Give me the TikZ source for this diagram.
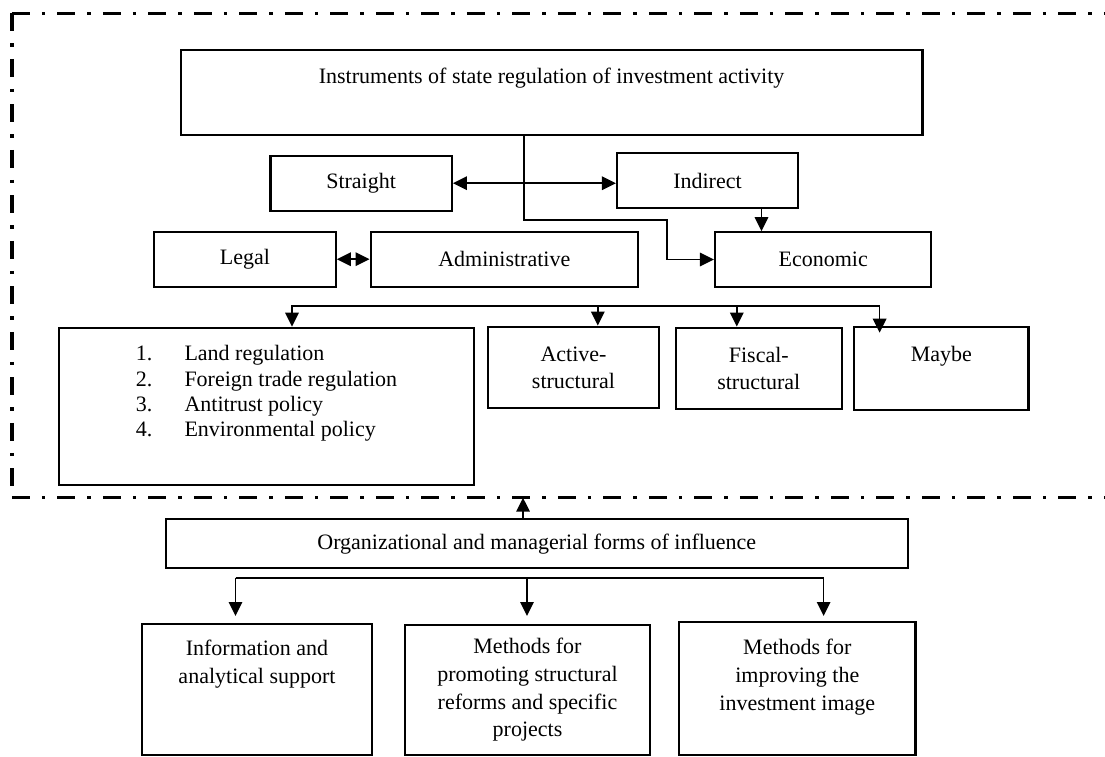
\documentclass[tikz,border=0pt]{standalone}
\usepackage{fontspec}
\setmainfont{Liberation Serif}
\usetikzlibrary{arrows.meta}
\begin{document}
\begin{tikzpicture}[x=1pt,y=-1pt,
 box/.style={draw, line width=2.2pt, inner sep=0pt, align=center, font=\fontsize{22}{27}\selectfont},
 conn/.style={line width=1.7pt},
 arr/.style={conn, -{Triangle[length=14pt,width=13.5pt]}},
 darr/.style={conn, {Triangle[length=14pt,width=13.5pt]}-{Triangle[length=14pt,width=13.5pt]}},
 border/.style={line width=3.5pt, dash pattern=on 18pt off 12pt on 3.5pt off 12pt}]
\useasboundingbox[fill=white] (0,0) rectangle (1105,756);
% dashed frame
\coordinate (TL) at (11.8,13.3);
\coordinate (TR) at (1105,13.3);
\coordinate (BL) at (11.8,497.7);
\coordinate (BR) at (1105,497.7);
\draw[border] (TL) -- (TR);
\draw[border] (TL) -- (BL);
\draw[border] (BL) -- (BR);
% nodes
\node[box, minimum width=741.8pt, minimum height=85.3pt] (top) at (551.6,92.7) {Instruments of state regulation of investment activity\\[6pt]~};
\node[box, minimum width=181.4pt, minimum height=55pt] (straight) at (361.1,183.2) {Straight};
\node[box, minimum width=181pt, minimum height=55pt] (indirect) at (707.5,180.8) {Indirect};
\node[box, minimum width=181.4pt, minimum height=55pt] (legal) at (245,259.2) {Legal};
\node[box, minimum width=267.3pt, minimum height=55pt] (admin) at (504.3,259.2) {Administrative};
\node[box, minimum width=216.3pt, minimum height=54.4pt] (economic) at (823.2,259.5) {Economic};
\node[box, minimum width=415pt, minimum height=157.3pt, align=left, font=\fontsize{22}{25.3}\selectfont] (land) at (266.5,406.4)
 {\makebox[48.6pt][l]{1.}Land regulation\\
  \makebox[48.6pt][l]{2.}Foreign trade regulation\hspace*{12pt}\\
  \makebox[48.6pt][l]{3.}Antitrust policy\\
  \makebox[48.6pt][l]{4.}Environmental policy\\[5pt]~};
\node[box, minimum width=171pt, minimum height=81.6pt] (active) at (573.5,367.5) {Active-\\structural};
\node[box, minimum width=165.7pt, minimum height=81.6pt] (fiscal) at (758.8,368.5) {Fiscal-\\structural};
\node[box, minimum width=174.5pt, minimum height=83.3pt] (maybe) at (941.3,368.4) {Maybe\\[3pt]~};
\node[box, minimum width=741.6pt, minimum height=49pt] (org) at (536.8,543.8) {Organizational and managerial forms of influence};
\node[box, minimum width=230pt, minimum height=131pt, font=\fontsize{22}{27.7}\selectfont] (info) at (257,689.5) {Information and\\analytical support\\~\\~};
\node[box, minimum width=245pt, minimum height=130pt, font=\fontsize{22}{27.7}\selectfont] (promote) at (527.5,690) {Methods for\\promoting structural\\reforms and specific\\projects};
\node[box, minimum width=236.5pt, minimum height=133.3pt, font=\fontsize{22}{27.7}\selectfont] (improve) at (797.3,688.4) {Methods for\\improving the\\investment image\\~};
% connectors, upper part
\draw[darr] (straight.east) -- (straight.east -| indirect.west);
\coordinate (t1) at (524,220);
\coordinate (t2) at (667,220);
\draw[arr] (top.south -| t1) -- (t1) -- (t2) -- (t2 |- economic.west) -- (economic.west);
\draw[arr] ([xshift=54pt]indirect.south) -- ([xshift=54pt]indirect.south |- economic.north);
\draw[darr] (legal.east) -- (admin.west);
% bus to instruments
\coordinate (b1) at (292,305.7);
\coordinate (b2) at (879.6,305.7);
\coordinate (b3) at (597.8,305.7);
\coordinate (b4) at (736.8,305.7);
\draw[arr] (b2) -- (b1) -- (b1 |- land.north);
\draw[arr] (b3) -- (b3 |- active.north);
\draw[arr] (b4) -- (b4 |- fiscal.north);
\draw[arr] (b2) -- ([yshift=-7pt]b2 |- maybe.north);
% organizational part
\coordinate (bd) at (523,497.7);
\draw[arr] (org.north -| bd) -- (bd);
\coordinate (c1) at (235.5,577.7);
\coordinate (c2) at (527,577.7);
\coordinate (c3) at (823.6,577.7);
\coordinate (cl) at (0,616);
\draw[conn] (c1) -- (c3);
\draw[arr] (c1) -- (c1 |- cl);
\draw[arr] (c2) -- (c2 |- cl);
\draw[arr] (c3) -- (c3 |- cl);
\end{tikzpicture}
\end{document}
